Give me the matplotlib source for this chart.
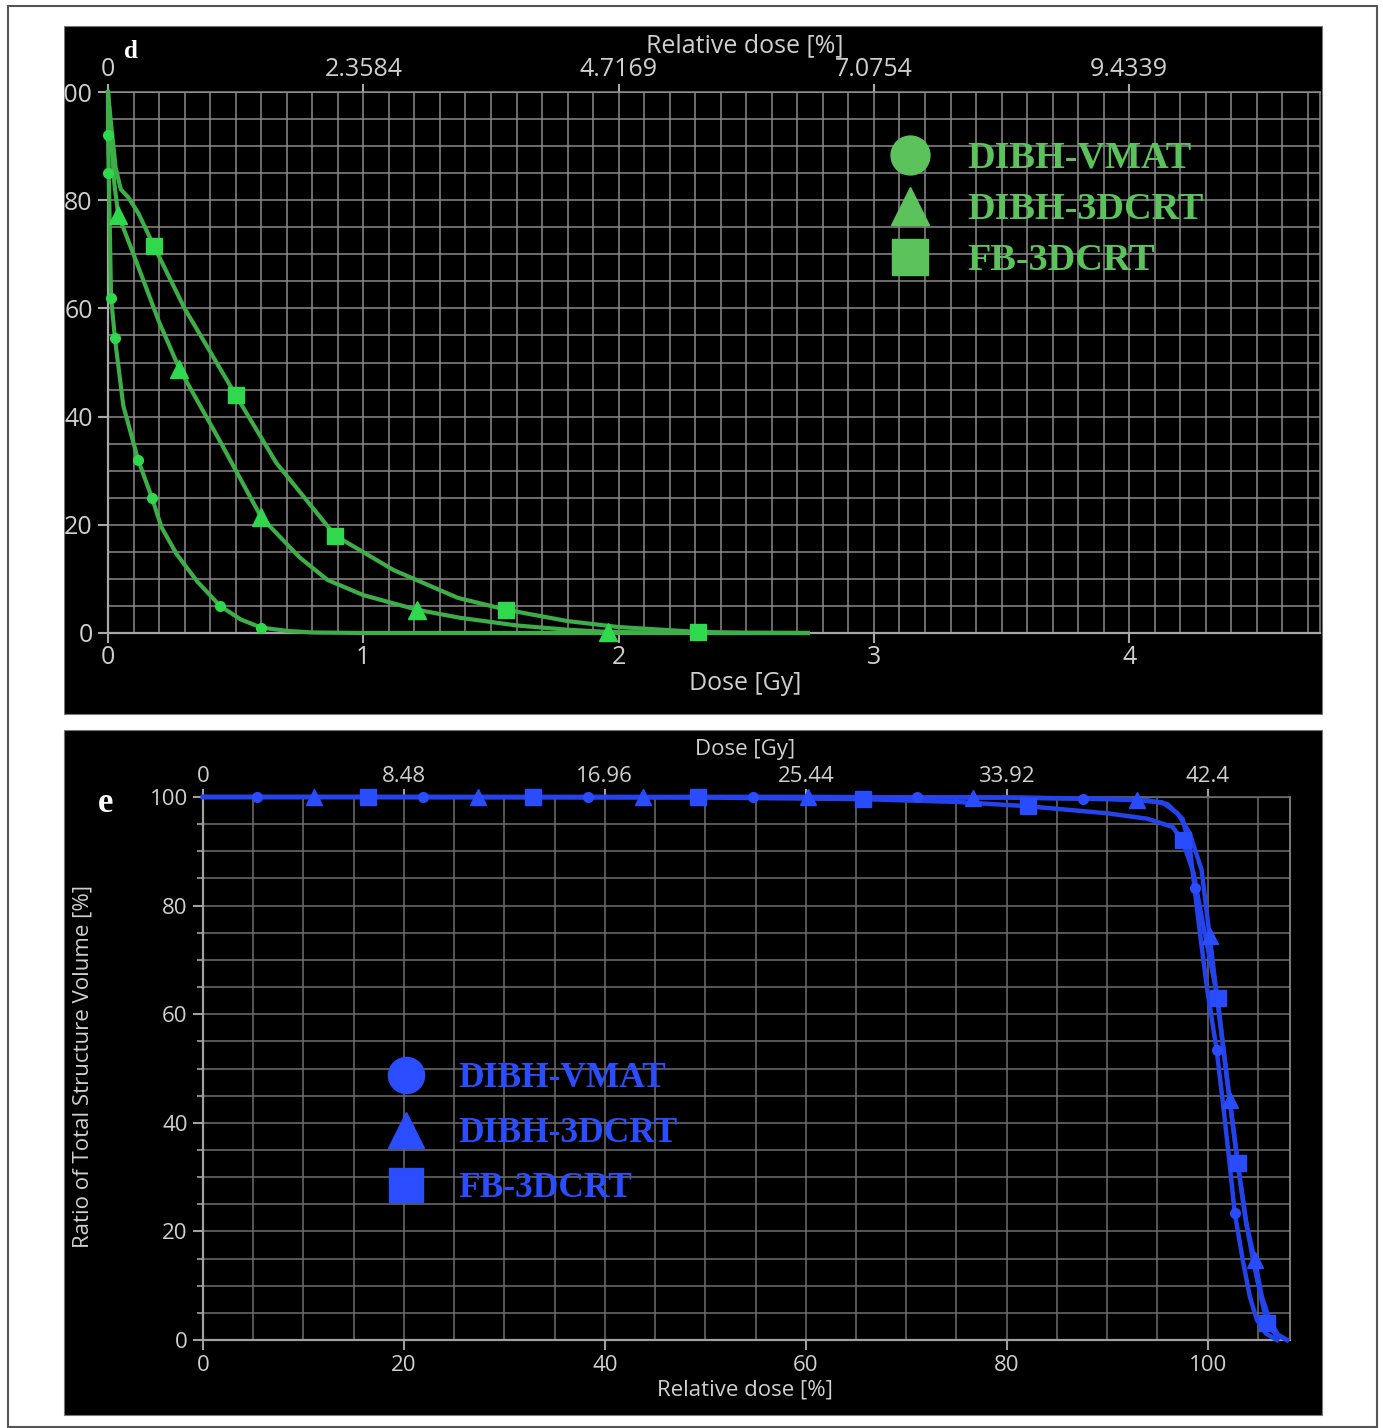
import matplotlib.pyplot as plt
from matplotlib.patches import Rectangle
from matplotlib.lines import Line2D
from matplotlib.ticker import MultipleLocator

plt.rcParams['font.family'] = ['Open Sans', 'DejaVu Sans']

# ---- panel d : low dose organ DVH, dose in Gy ----
d_vmat_gy = [0, 0, 0.003, 0.012, 0.027, 0.06, 0.118, 0.172, 0.21, 0.27, 0.35, 0.439, 0.52, 0.6, 0.7, 0.8, 1.0, 1.5, 2.0, 2.74]
d_vmat_vol = [100, 92, 85, 62, 54.5, 42, 32, 25, 19.5, 14.5, 9.5, 5, 2.5, 1, 0.4, 0.1, 0, 0, 0, 0]
d_tri_gy = [0, 0.01, 0.025, 0.04, 0.1, 0.2, 0.28, 0.43, 0.6, 0.75, 0.86, 1.0, 1.21, 1.38, 1.6, 1.8, 1.96, 2.3, 2.74]
d_tri_vol = [100, 93, 83, 77.3, 70, 57.5, 48.8, 36.2, 21.4, 14, 9.8, 7, 4.3, 2.8, 1.4, 0.6, 0.2, 0, 0]
d_fb_gy = [0, 0.01, 0.03, 0.05, 0.08, 0.12, 0.18, 0.3, 0.5, 0.66, 0.89, 1.12, 1.37, 1.56, 1.8, 2.0, 2.31, 2.5, 2.74]
d_fb_vol = [100, 95, 86, 82, 80.5, 77.5, 71.5, 60, 44, 31.4, 18, 11.6, 6.5, 4.3, 2.2, 1.1, 0.2, 0.05, 0]

d_vmat_mk_gy = [0, 0, 0.012, 0.027, 0.118, 0.172, 0.439, 0.6]
d_vmat_mk_vol = [92, 85, 62, 54.5, 32, 25, 5, 1]
d_tri_mk_gy = [0.04, 0.28, 0.6, 1.21, 1.96]
d_tri_mk_vol = [77.3, 48.8, 21.4, 4.3, 0.2]
d_fb_mk_gy = [0.18, 0.5, 0.89, 1.56, 2.31]
d_fb_mk_vol = [71.5, 44, 18, 4.3, 0.2]

d_xticks = [0, 1, 2, 3, 4]
d_yticks = [0, 20, 40, 60, 80, 100]
d_top_ticks = [0, 2.3584, 4.7169, 7.0754, 9.4339]
d_top_labels = ['0', '2.3584', '4.7169', '7.0754', '9.4339']

# ---- panel e : target DVH, relative dose in % ----
e_vmat_rel = [0, 20, 40, 60, 80, 90, 94, 96, 97.5, 98.2, 98.7, 99.3, 100, 100.9, 101.5, 102.1, 102.7, 103.5, 104.2, 104.9, 105.8, 106.9]
e_vmat_vol = [100, 100, 100, 100, 99.9, 99.7, 99.4, 98.7, 96, 91, 83.2, 74, 64, 53.4, 44, 34, 23.4, 14.7, 8, 3.7, 1.2, 0]
e_tri_rel = [0, 20, 40, 60, 80, 90, 93, 95.5, 97, 98.2, 99.4, 100.2, 101.2, 102.2, 103.1, 103.9, 104.7, 105.4, 106.2, 107.0, 107.9]
e_tri_vol = [100, 100, 100, 100, 99.9, 99.6, 99.4, 99, 97, 93.4, 86.6, 74.4, 59, 44.2, 31, 21, 14.7, 8, 3.5, 1, 0]
e_fb_rel = [0, 16.4, 50, 65.7, 75, 82.1, 90, 94, 96.5, 97.5, 98.6, 99.6, 101, 102, 103, 103.8, 104.6, 105.3, 105.9, 106.8, 107.9]
e_fb_vol = [100, 100, 99.9, 99.6, 99.1, 98.3, 97, 96, 94.5, 92, 86, 76, 62.9, 47, 32.6, 22, 14, 8, 3.1, 1, 0]

e_vmat_mk_rel = [5.4, 21.9, 38.3, 54.7, 71.1, 87.6, 98.7, 100.9, 102.7]
e_vmat_mk_vol = [100, 100, 100, 100, 100, 99.6, 83.2, 53.4, 23.4]
e_tri_mk_rel = [11, 27.4, 43.8, 60.2, 76.6, 93, 100.2, 102.2, 104.7]
e_tri_mk_vol = [100, 100, 100, 100, 99.8, 99.4, 74.4, 44.2, 14.7]
e_fb_mk_rel = [16.4, 32.8, 49.3, 65.7, 82.1, 97.5, 101, 103, 105.9]
e_fb_mk_vol = [100, 100, 100, 99.6, 98.3, 92, 62.9, 32.6, 3.1]

e_xticks = [0, 20, 40, 60, 80, 100]
e_yticks = [0, 20, 40, 60, 80, 100]
e_top_ticks = [0, 8.48, 16.96, 25.44, 33.92, 42.4]
e_top_labels = ['0', '8.48', '16.96', '25.44', '33.92', '42.4']

legend_names = ['DIBH-VMAT', 'DIBH-3DCRT', 'FB-3DCRT']

W, H = 1383, 1428
PRESCRIPTION = 42.4


def fx(px):
    return px / W


def fy(py):
    return 1 - py / H


def box(x0, y0, x1, y1):
    return [fx(x0), fy(y1), fx(x1) - fx(x0), fy(y0) - fy(y1)]


fig = plt.figure(figsize=(W / 100, H / 100), dpi=100)
fig.patch.set_facecolor('white')

for x0, y0, x1, y1 in [(64, 26, 1322, 714), (64, 730, 1322, 1415)]:
    b = box(x0, y0, x1, y1)
    fig.patches.append(Rectangle((b[0], b[1]), b[2], b[3], transform=fig.transFigure,
                                 facecolor='black', edgecolor='#777777', lw=0.8, zorder=-5))

txt = '#cfcfcf'


def style_axes(ax, grid_col, spine_col, size):
    ax.set_facecolor('none')
    ax.grid(which='both', color=grid_col, lw=1.1)
    ax.set_axisbelow(True)
    for s in ['left', 'bottom']:
        ax.spines[s].set_color(spine_col)
        ax.spines[s].set_linewidth(1.6)
    for s in ['top', 'right']:
        ax.spines[s].set_color(grid_col)
        ax.spines[s].set_linewidth(1.1)
    ax.tick_params(which='major', colors=spine_col, labelcolor=txt, labelsize=size,
                   length=7, width=1.5)


# ================= panel d =================
green_line = '#3dae48'
green_mk = '#2fd84c'
green_txt = '#5cc35c'

ax1 = fig.add_axes(box(108, 92, 1320, 633))
ax1.set_xlim(0, 4.747)
ax1.set_ylim(0, 100)
ax1.xaxis.set_minor_locator(MultipleLocator(0.1))
ax1.yaxis.set_minor_locator(MultipleLocator(5))
style_axes(ax1, '#8a8a8a', '#a8a8a8', 18)
ax1.tick_params(which='minor', length=0)
ax1.tick_params(axis='x', pad=2)
ax1.tick_params(axis='y', pad=4)
ax1.set_xticks(d_xticks)
ax1.set_yticks(d_yticks)

ax1.plot(d_vmat_gy, d_vmat_vol, color=green_line, lw=3, clip_on=False, zorder=3)
ax1.plot(d_tri_gy, d_tri_vol, color=green_line, lw=3, clip_on=False, zorder=3)
ax1.plot(d_fb_gy, d_fb_vol, color=green_line, lw=3, clip_on=False, zorder=3)
ax1.plot(d_vmat_mk_gy, d_vmat_mk_vol, 'o', color=green_mk, ms=7, clip_on=False, zorder=4)
ax1.plot(d_tri_mk_gy, d_tri_mk_vol, '^', color=green_mk, ms=13, clip_on=False, zorder=4)
ax1.plot(d_fb_mk_gy, d_fb_mk_vol, 's', color=green_mk, ms=12, clip_on=False, zorder=4)

sec1 = ax1.secondary_xaxis('top', functions=(lambda g: g * 100 / PRESCRIPTION,
                                             lambda r: r * PRESCRIPTION / 100))
sec1.set_xticks(d_top_ticks, labels=d_top_labels)
sec1.tick_params(colors='#a8a8a8', labelcolor=txt, labelsize=18, length=6, width=1.5, pad=1)
sec1.spines['top'].set_color('#8a8a8a')

h1 = [Line2D([], [], ls='none', marker=m, color=green_txt, ms=s)
      for m, s in [('o', 28), ('^', 28), ('s', 26)]]
ax1.legend(h1, legend_names, loc='upper left', bbox_to_anchor=(fx(891), fy(141)),
           bbox_transform=fig.transFigure, frameon=False, labelcolor=green_txt,
           prop=dict(family='Liberation Serif', weight='bold', size=27.5),
           handlelength=1, handletextpad=1.0, labelspacing=0.42, borderpad=0, borderaxespad=0)

fig.text(fx(745), fy(46), 'Relative dose [%]', ha='center', va='center', color=txt, fontsize=18)
fig.text(fx(745), fy(683), 'Dose [Gy]', ha='center', va='center', color=txt, fontsize=18)
fig.text(fx(131), fy(52), 'd', ha='center', va='center', color='white', fontsize=18,
         family='Liberation Serif', weight='bold')

# ================= panel e =================
blue_line = '#2443ea'
blue_mk = '#2a4cff'
blue_txt = '#2a4dff'

ax2 = fig.add_axes(box(203, 797, 1290, 1340))
ax2.set_xlim(0, 108.2)
ax2.set_ylim(0, 100)
ax2.xaxis.set_minor_locator(MultipleLocator(5))
ax2.yaxis.set_minor_locator(MultipleLocator(5))
style_axes(ax2, '#6e6e6e', '#a0a0a0', 16)
ax2.tick_params(axis='x', which='minor', length=0)
ax2.tick_params(axis='y', which='minor', length=4, width=1.2, color='#a0a0a0')
ax2.tick_params(axis='x', pad=4)
ax2.tick_params(axis='y', pad=4)
ax2.set_xticks(e_xticks)
ax2.set_yticks(e_yticks)
ax2.spines['right'].set_color('#9a9a9a')

ax2.plot(e_vmat_rel, e_vmat_vol, color=blue_line, lw=3.2, clip_on=False, zorder=3)
ax2.plot(e_tri_rel, e_tri_vol, color=blue_line, lw=3.2, clip_on=False, zorder=3)
ax2.plot(e_fb_rel, e_fb_vol, color=blue_line, lw=3.2, clip_on=False, zorder=3)
ax2.plot(e_vmat_mk_rel, e_vmat_mk_vol, 'o', color=blue_mk, ms=7, clip_on=False, zorder=4)
ax2.plot(e_tri_mk_rel, e_tri_mk_vol, '^', color=blue_mk, ms=11, clip_on=False, zorder=4)
ax2.plot(e_fb_mk_rel, e_fb_mk_vol, 's', color=blue_mk, ms=12, clip_on=False, zorder=4)

sec2 = ax2.secondary_xaxis('top', functions=(lambda r: r * PRESCRIPTION / 100,
                                             lambda g: g * 100 / PRESCRIPTION))
sec2.set_xticks(e_top_ticks, labels=e_top_labels)
sec2.tick_params(colors='#a0a0a0', labelcolor=txt, labelsize=16, length=6, width=1.5, pad=1)
sec2.spines['top'].set_color('#6e6e6e')

h2 = [Line2D([], [], ls='none', marker=m, color=blue_txt, ms=s)
      for m, s in [('o', 26), ('^', 26), ('s', 25)]]
ax2.legend(h2, legend_names, loc='upper left', bbox_to_anchor=(fx(388), fy(1062)),
           bbox_transform=fig.transFigure, frameon=False, labelcolor=blue_txt,
           prop=dict(family='Liberation Serif', weight='bold', size=25.5),
           handlelength=1, handletextpad=1.0, labelspacing=0.62, borderpad=0, borderaxespad=0)

fig.text(fx(745), fy(750), 'Dose [Gy]', ha='center', va='center', color=txt, fontsize=16)
fig.text(fx(745), fy(1390), 'Relative dose [%]', ha='center', va='center', color=txt, fontsize=16)
fig.text(fx(83), fy(1067), 'Ratio of Total Structure Volume [%]', ha='center', va='center',
         rotation=90, color=txt, fontsize=16)
fig.text(fx(106), fy(804), 'e', ha='center', va='center', color='white', fontsize=25,
         family='Liberation Serif', weight='bold')

# the "100" of panel d is cut at the panel edge in the source figure
b = box(10, 26, 63.5, 714)
fig.patches.append(Rectangle((b[0], b[1]), b[2], b[3], transform=fig.transFigure,
                             facecolor='white', edgecolor='none', zorder=5))
b = box(8, 6, 1377, 1427)
fig.patches.append(Rectangle((b[0], b[1]), b[2], b[3], transform=fig.transFigure,
                             facecolor='none', edgecolor='#555555', lw=1.5, zorder=6))

fig.savefig('out.png', dpi=100, facecolor='white')
